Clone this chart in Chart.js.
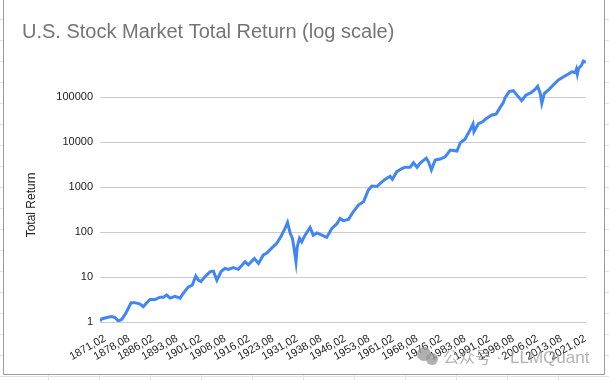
<!DOCTYPE html>
<html>
<head>
<meta charset="utf-8">
<script src="https://cdn.jsdelivr.net/npm/chart.js@4.4.1/dist/chart.umd.min.js"></script>
<style>
  html, body { margin: 0; padding: 0; }
  body {
    width: 609px; height: 380px; overflow: hidden; position: relative;
    background-color: #fff;
    background-image: linear-gradient(#e2e2e2 1px, transparent 1px),
                      linear-gradient(90deg, #e2e2e2 1px, transparent 1px);
    background-size: 51px 21px;
    background-position: -3px -2px;
  }
  #box {
    position: absolute; left: 3px; top: -1px;
    width: 600px; height: 374px;
    background: #fff; border: 1px solid #9e9e9e;
  }
  canvas { display: block; }
</style>
</head>
<body>
<div id="box"><canvas id="returnChart" width="600" height="374"></canvas></div>
<script>
// date as decimal year
const years = [
  1871.08, 1871.6, 1873.2, 1874.7, 1875.8, 1876.8, 1877.9, 1879.1, 1879.9, 1880.8,
  1882.0, 1883.6, 1884.6, 1885.7, 1886.7, 1888.3, 1889.8, 1890.9, 1891.9, 1893.0,
  1894.5, 1896.1, 1897.1, 1898.7, 1899.9, 1901.0, 1901.8, 1902.6, 1903.9, 1905.5,
  1906.5, 1907.6, 1908.9, 1910.1, 1911.2, 1912.7, 1914.3, 1916.4, 1917.4, 1919.3,
  1920.6, 1922.1, 1923.2, 1924.7, 1926.3, 1927.6, 1928.9, 1929.67, 1930.5, 1931.2,
  1931.7, 1932.3, 1932.7, 1933.4, 1934.1, 1934.9, 1936.7, 1937.7, 1938.8, 1940.4,
  1941.9, 1943.5, 1945.0, 1946.1, 1947.1, 1948.7, 1950.2, 1951.8, 1953.4, 1954.9,
  1956.0, 1957.6, 1958.6, 1960.1, 1961.7, 1962.4, 1963.8, 1965.4, 1966.4, 1968.0,
  1969.0, 1970.1, 1971.1, 1973.0, 1973.7, 1974.6, 1975.8, 1977.3, 1978.9, 1980.5,
  1981.5, 1982.6, 1983.6, 1985.1, 1986.7, 1987.6, 1987.9, 1989.3, 1990.6, 1991.9,
  1993.5, 1994.8, 1996.1, 1997.1, 1997.6, 1998.9, 2000.2, 2001.6, 2002.8, 2004.1,
  2005.8, 2007.0, 2007.8, 2008.6, 2009.1, 2009.9, 2011.2, 2012.7, 2014.3, 2015.9,
  2017.4, 2018.5, 2019.5, 2019.9, 2020.2, 2020.6, 2021.4, 2022.1, 2022.9
];
const totalReturn = [
  1.05, 1.17, 1.26, 1.32, 1.26, 1.05, 1.15, 1.55, 2.0, 2.69,
  2.69, 2.51, 2.19, 2.69, 3.16, 3.16, 3.55, 3.55, 3.98, 3.39,
  3.72, 3.39, 4.37, 6.03, 6.61, 10.5, 8.51, 7.94, 10.2, 13.2,
  13.5, 8.51, 13.2, 15.5, 14.8, 16.2, 14.8, 21.9, 18.6, 25.7,
  20.0, 30.9, 33.9, 43.7, 56.2, 79.4, 120, 162, 93.3, 72.4,
  43.7, 21.9, 46.8, 72.4, 60.3, 79.4, 126, 85.1, 95.5, 85.1,
  75.9, 120, 151, 200, 178, 191, 282, 398, 468, 851,
  1047, 1023, 1202, 1479, 1738, 1479, 2188, 2570, 2754, 2754,
  3467, 2754, 3388, 4365, 3631, 2399, 3981, 4169, 4677, 6607,
  6457, 6310, 9550, 11480, 18620, 25120, 16980, 25700, 28180, 33880,
  39810, 41690, 58880, 75860, 95500, 131800, 138000, 104700, 83180, 109600,
  125900, 147900, 173800, 120200, 72440, 120200, 144500, 186200, 239900, 281800,
  323600, 363100, 346700, 416900, 323600, 436500, 489800, 631000, 588800
];
const xTickLabels = [
  "1871,02", "1878,08", "1886,02", "1893,08", "1901,02", "1908,08", "1916,02",
  "1923,08", "1931,02", "1938,08", "1946,02", "1953,08", "1961,02", "1968,08",
  "1976,02", "1983,08", "1991,02", "1998,08", "2006,02", "2013,08", "2021,02"
];
const yTickValues = [1, 10, 100, 1000, 10000, 100000];

function labelToYear(label) {
  const parts = label.split(",");
  return Number(parts[0]) + (Number(parts[1]) - 1) / 12;
}

const points = years.map((y, i) => ({ x: y, y: totalReturn[i] }));

// title, axis title and the watermark are painted by hand
const extraText = {
  id: "extraText",
  afterDraw(chart) {
    const ctx = chart.ctx;
    ctx.save();
    ctx.fillStyle = "#757575";
    ctx.font = "20px 'Liberation Sans', Arial, sans-serif";
    ctx.textAlign = "left";
    ctx.textBaseline = "alphabetic";
    ctx.fillText("U.S. Stock Market Total Return (log scale)", 18, 38);

    ctx.fillStyle = "#222";
    ctx.font = "12px 'Liberation Sans', Arial, sans-serif";
    ctx.translate(28, 205);
    ctx.rotate(-Math.PI / 2);
    ctx.textAlign = "center";
    ctx.textBaseline = "middle";
    ctx.fillText("Total Return", 0, 0);
    ctx.restore();

    // watermark
    ctx.save();
    ctx.fillStyle = "rgba(150,150,150,0.75)";
    ctx.beginPath();
    ctx.arc(420, 354, 7, 0, Math.PI * 2);
    ctx.fill();
    ctx.beginPath();
    ctx.arc(428, 359, 6, 0, Math.PI * 2);
    ctx.fill();
    ctx.fillStyle = "rgba(160,160,160,0.8)";
    ctx.textBaseline = "alphabetic";
    ctx.font = "16px 'Noto Sans CJK SC', sans-serif";
    ctx.fillText("公众号", 439, 363);
    ctx.font = "17px 'Liberation Sans', Arial, sans-serif";
    ctx.fillText("·", 492, 363);
    ctx.fillText("LLMQuant", 506, 363);
    ctx.restore();
  }
};

new Chart(document.getElementById("returnChart"), {
  type: "line",
  data: {
    datasets: [{
      label: "Total Return",
      data: points,
      borderColor: "#4285f4",
      borderWidth: 3,
      pointRadius: 0,
      tension: 0,
      fill: false
    }]
  },
  options: {
    responsive: false,
    animation: false,
    layout: { padding: { top: 52, right: 18, left: 0, bottom: 0 } },
    plugins: {
      legend: { display: false },
      tooltip: { enabled: false }
    },
    scales: {
      x: {
        type: "linear",
        min: years[0],
        max: years[years.length - 1],
        grid: { display: false, drawTicks: false },
        border: { display: false },
        afterBuildTicks: scale => {
          scale.ticks = xTickLabels.map(l => ({ value: labelToYear(l) }));
        },
        afterFit: scale => { scale.height = 52; },
        ticks: {
          autoSkip: false,
          minRotation: 30,
          maxRotation: 30,
          padding: 10,
          labelOffset: 5,
          color: "#222",
          font: { family: "'Liberation Sans', Arial, sans-serif", size: 11 },
          callback: (value, index) => xTickLabels[index]
        }
      },
      y: {
        type: "logarithmic",
        min: 1,
        max: 1000000,
        grid: { color: "#cccccc", drawTicks: false },
        border: { display: false },
        afterBuildTicks: scale => {
          scale.ticks = yTickValues.map(v => ({ value: v }));
        },
        afterFit: scale => { scale.width = 96; },
        ticks: {
          padding: 7,
          color: "#222",
          font: { family: "'Liberation Sans', Arial, sans-serif", size: 11 },
          callback: value => String(value)
        }
      }
    }
  },
  plugins: [extraText]
});
</script>
</body>
</html>
